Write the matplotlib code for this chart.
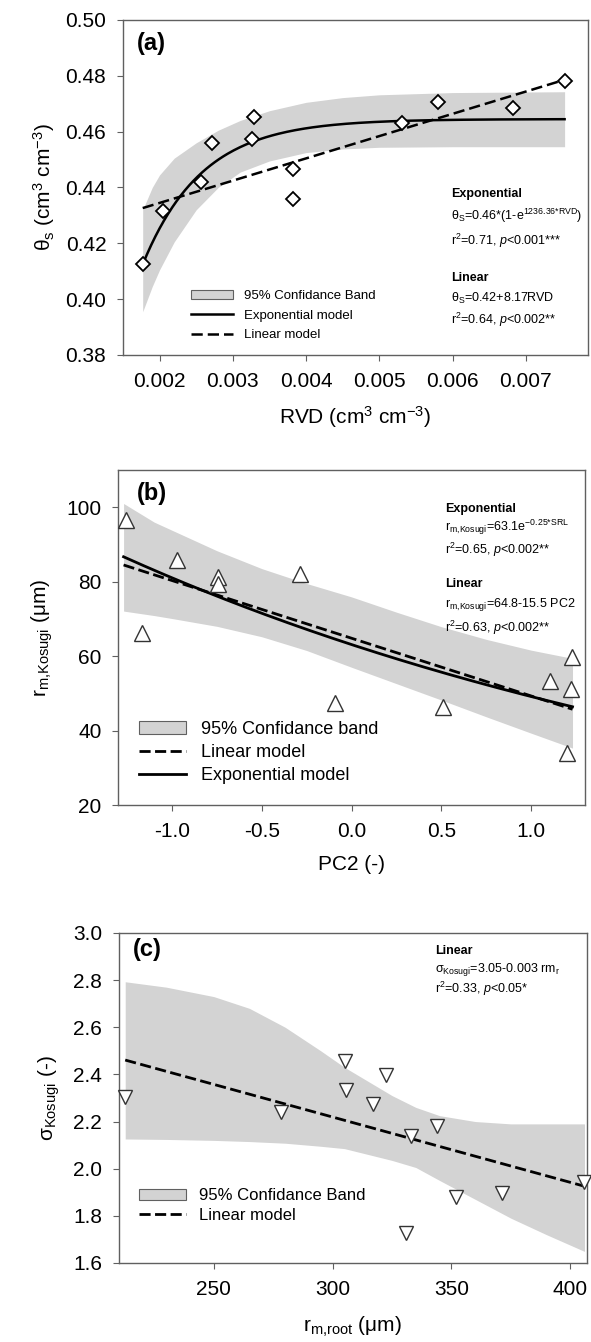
# pylint: disable=missing-docstring,invalid-name

import matplotlib
matplotlib.use('Agg')
import matplotlib.pyplot as plt
import numpy as np
from matplotlib import font_manager
from matplotlib.lines import Line2D
from matplotlib.patches import Patch

# ---- panel (a): theta_s vs RVD
rvd = [0.00177, 0.00205, 0.00257, 0.00272, 0.00326, 0.00329,
       0.00382, 0.00382, 0.00531, 0.00580, 0.00683, 0.00753]
theta_s = [0.4125, 0.4316, 0.4421, 0.4558, 0.4573, 0.4651,
           0.4465, 0.4359, 0.4632, 0.4707, 0.4686, 0.4781]
band_a_x = [0.00177, 0.0019, 0.0020, 0.0022, 0.0025, 0.0028, 0.0031,
            0.0035, 0.0040, 0.0045, 0.0050, 0.0060, 0.00753]
band_a_hi = [0.4320, 0.4400, 0.4445, 0.4505, 0.4560, 0.4605, 0.4640,
             0.4675, 0.4705, 0.4722, 0.4732, 0.4740, 0.4743]
band_a_lo = [0.3955, 0.4045, 0.4105, 0.4205, 0.4320, 0.4400, 0.4455,
             0.4495, 0.4525, 0.4538, 0.4544, 0.4546, 0.4546]
exp_a = (0.4645, 1236.36)
lin_a = (0.4185, 7.98)

# ---- panel (b): r_m,Kosugi vs PC2
pc2 = [-1.258, -1.166, -0.973, -0.746, -0.746, -0.29,
       -0.095, 0.508, 1.103, 1.229, 1.223, 1.202]
rm_kosugi = [96.6, 66.1, 85.9, 81.3, 79.3, 82.1,
             47.3, 46.4, 53.4, 59.8, 51.1, 34.1]
band_b_x = [-1.27, -1.1, -1.0, -0.75, -0.5, -0.25, 0.0, 0.25, 0.5, 0.75,
            1.0, 1.23]
band_b_hi = [101.0, 96.0, 93.8, 88.3, 83.5, 79.5, 75.9, 71.8, 67.9, 64.5,
             61.6, 59.4]
band_b_lo = [72.1, 70.9, 70.1, 68.0, 65.2, 61.5, 57.0, 52.6, 48.2, 43.7,
             39.3, 35.3]
exp_b = (63.1, 0.25)
lin_b = (64.8, 15.5)

# ---- panel (c): sigma_Kosugi vs r_m,root
rm_root = [212.7, 278.1, 305.0, 305.6, 316.9, 322.3,
           332.9, 331.0, 344.1, 351.8, 371.4, 406.0]
sigma_kosugi = [2.305, 2.239, 2.458, 2.333, 2.273, 2.398,
                2.140, 1.728, 2.182, 1.879, 1.897, 1.945]
band_c_x = [212.7, 230, 250, 265, 280, 295, 305, 315, 325, 335, 345, 360,
            375, 390, 406]
band_c_hi = [2.793, 2.77, 2.73, 2.68, 2.60, 2.50, 2.43, 2.37, 2.31, 2.26,
             2.225, 2.20, 2.19, 2.19, 2.19]
band_c_lo = [2.126, 2.124, 2.12, 2.115, 2.108, 2.095, 2.085, 2.06, 2.035,
             2.005, 1.95, 1.87, 1.79, 1.72, 1.649]
lin_c = (3.05, 0.00277)

names = {f.name for f in font_manager.fontManager.ttflist}
main_font = 'Liberation Sans' if 'Liberation Sans' in names else 'DejaVu Sans'
narrow_font = 'Liberation Sans Narrow' if 'Liberation Sans Narrow' in names else main_font

plt.rcParams['font.family'] = [main_font, 'DejaVu Sans']
plt.rcParams['axes.unicode_minus'] = False
plt.rcParams['mathtext.fontset'] = 'custom'
plt.rcParams['mathtext.rm'] = main_font
plt.rcParams['mathtext.it'] = main_font + ':italic'
plt.rcParams['mathtext.bf'] = main_font + ':bold'

BAND = '#d3d3d3'
SPINE = '#606060'
DASH = (0, (4, 1.6))

fig = plt.figure(figsize=(5.91, 13.42), dpi=100)
ax_a = fig.add_axes([0.208, 0.7355, 0.787, 0.2496])
ax_b = fig.add_axes([0.200, 0.4001, 0.790, 0.2497])
ax_c = fig.add_axes([0.201, 0.0589, 0.792, 0.2459])


def style_axes(ax):
    for s in ax.spines.values():
        s.set_color(SPINE)
        s.set_linewidth(1.0)
    ax.tick_params(direction='out', length=4, width=0.8, color=SPINE,
                   labelsize=15, pad=8)


def small_text(ax, x, y, s, bold=False, size=9):
    ax.text(x, y, s, transform=ax.transAxes, fontsize=size,
            family=[narrow_font, 'DejaVu Sans'],
            fontweight='bold' if bold else 'normal', va='center', ha='left')


# ---------------- (a)
xs = np.linspace(min(rvd), max(rvd), 200)
ax_a.fill_between(band_a_x, band_a_lo, band_a_hi, color=BAND, lw=0)
ax_a.plot(xs, exp_a[0] * (1 - np.exp(-exp_a[1] * xs)), color='black', lw=1.8)
ax_a.plot(xs, lin_a[0] + lin_a[1] * xs, color='black', lw=1.8, ls=(0, (4.5, 2)))
ax_a.plot(rvd, theta_s, 'D', ms=7.5, mfc='white', mec='black', mew=1.3,
          clip_on=False, zorder=5)
ax_a.set_xlim(0.0015, 0.00785)
ax_a.set_ylim(0.38, 0.50)
ax_a.set_xticks(np.arange(0.002, 0.0071, 0.001))
ax_a.set_yticks(np.arange(0.38, 0.501, 0.02))
ax_a.xaxis.set_major_formatter(matplotlib.ticker.FormatStrFormatter('%.3f'))
ax_a.yaxis.set_major_formatter(matplotlib.ticker.FormatStrFormatter('%.2f'))
style_axes(ax_a)
ax_a.set_xlabel('RVD (cm$^\\mathregular{3}$ cm$^\\mathregular{-3}$)', fontsize=15,
                labelpad=10)
ax_a.set_ylabel('θ$_\\mathregular{s}$ (cm$^\\mathregular{3}$ cm$^\\mathregular{-3}$)',
                fontsize=15, labelpad=6)
ax_a.text(0.03, 0.93, '(a)', transform=ax_a.transAxes, fontsize=17,
          fontweight='bold', va='center')
small_text(ax_a, 0.705, 0.48, 'Exponential', bold=True)
small_text(ax_a, 0.705, 0.415,
           'θ$_\\mathregular{S}$=0.46*(1-e$^\\mathregular{1236.36{*}RVD}$)')
small_text(ax_a, 0.705, 0.34, 'r$^\\mathregular{2}$=0.71, $\\it{p}$<0.001***')
small_text(ax_a, 0.705, 0.23, 'Linear', bold=True)
small_text(ax_a, 0.705, 0.17, 'θ$_\\mathregular{S}$=0.42+8.17RVD')
small_text(ax_a, 0.705, 0.105, 'r$^\\mathregular{2}$=0.64, $\\it{p}$<0.002**')
h_a = [Patch(facecolor=BAND, edgecolor=SPINE, lw=0.8),
       Line2D([], [], color='black', lw=1.8),
       Line2D([], [], color='black', lw=1.8, ls=(0, (4.5, 2)))]
ax_a.legend(h_a, ['95% Confidance Band', 'Exponential model', 'Linear model'],
            loc='lower left', bbox_to_anchor=(0.135, 0.025), frameon=False,
            prop={'family': narrow_font, 'size': 9.5}, handlelength=3.2,
            labelspacing=0.55, borderaxespad=0)

# ---------------- (b)
xs = np.linspace(-1.27, 1.23, 200)
ax_b.fill_between(band_b_x, band_b_lo, band_b_hi, color=BAND, lw=0)
ax_b.plot(xs, lin_b[0] - lin_b[1] * xs, color='black', lw=2.0, ls=DASH)
ax_b.plot(xs, exp_b[0] * np.exp(-exp_b[1] * xs), color='black', lw=2.0)
ax_b.plot(pc2, rm_kosugi, '^', ms=11, mfc='white', mec='#333333', mew=1.0,
          clip_on=False, zorder=5)
ax_b.set_xlim(-1.3, 1.3)
ax_b.set_ylim(20, 110)
ax_b.set_xticks([-1.0, -0.5, 0.0, 0.5, 1.0])
ax_b.set_yticks([20, 40, 60, 80, 100])
ax_b.xaxis.set_major_formatter(matplotlib.ticker.FormatStrFormatter('%.1f'))
style_axes(ax_b)
ax_b.set_xlabel('PC2 (-)', fontsize=15, labelpad=10)
ax_b.set_ylabel('r$_\\mathregular{m{,}Kosugi}$ (μm)', fontsize=15, labelpad=8)
ax_b.text(0.04, 0.93, '(b)', transform=ax_b.transAxes, fontsize=17,
          fontweight='bold', va='center')
small_text(ax_b, 0.7, 0.885, 'Exponential', bold=True)
small_text(ax_b, 0.7, 0.83,
           'r$_\\mathregular{m{,}Kosugi}$=63.1e$^\\mathregular{-0.25{*}SRL}$')
small_text(ax_b, 0.7, 0.76, 'r$^\\mathregular{2}$=0.65, $\\it{p}$<0.002**')
small_text(ax_b, 0.7, 0.66, 'Linear', bold=True)
small_text(ax_b, 0.7, 0.60,
           'r$_\\mathregular{m{,}Kosugi}$=64.8-15.5 PC2')
small_text(ax_b, 0.7, 0.53, 'r$^\\mathregular{2}$=0.63, $\\it{p}$<0.002**')
h_b = [Patch(facecolor=BAND, edgecolor=SPINE, lw=0.8),
       Line2D([], [], color='black', lw=2.0, ls=DASH),
       Line2D([], [], color='black', lw=2.0)]
ax_b.legend(h_b, ['95% Confidance band', 'Linear model', 'Exponential model'],
            loc='lower left', bbox_to_anchor=(0.03, 0.04), frameon=False,
            prop={'size': 13}, handlelength=2.6, labelspacing=0.35,
            borderaxespad=0)

# ---------------- (c)
xs = np.linspace(min(rm_root), max(rm_root), 100)
ax_c.fill_between(band_c_x, band_c_lo, band_c_hi, color=BAND, lw=0)
ax_c.plot(xs, lin_c[0] - lin_c[1] * xs, color='black', lw=2.0, ls=DASH)
ax_c.plot(rm_root, sigma_kosugi, 'v', ms=10, mfc='white', mec='#333333',
          mew=1.0, clip_on=False, zorder=5)
ax_c.set_xlim(210, 407)
ax_c.set_ylim(1.6, 3.0)
ax_c.set_xticks([250, 300, 350, 400])
ax_c.set_yticks(np.arange(1.6, 3.01, 0.2))
ax_c.yaxis.set_major_formatter(matplotlib.ticker.FormatStrFormatter('%.1f'))
style_axes(ax_c)
ax_c.set_xlabel('r$_\\mathregular{m{,}root}$ (μm)', fontsize=15, labelpad=12)
ax_c.set_ylabel('σ$_\\mathregular{Kosugi}$ (-)', fontsize=15, labelpad=8)
ax_c.text(0.03, 0.95, '(c)', transform=ax_c.transAxes, fontsize=17,
          fontweight='bold', va='center')
small_text(ax_c, 0.675, 0.945, 'Linear', bold=True)
small_text(ax_c, 0.675, 0.89,
           'σ$_\\mathregular{Kosugi}$=3.05-0.003 rm$_\\mathregular{r}$')
small_text(ax_c, 0.675, 0.83, 'r$^\\mathregular{2}$=0.33, $\\it{p}$<0.05*')
h_c = [Patch(facecolor=BAND, edgecolor=SPINE, lw=0.8),
       Line2D([], [], color='black', lw=2.0, ls=DASH)]
ax_c.legend(h_c, ['95% Confidance Band', 'Linear model'],
            loc='lower left', bbox_to_anchor=(0.03, 0.1), frameon=False,
            prop={'family': narrow_font, 'size': 12}, handlelength=2.8,
            labelspacing=0.3, borderaxespad=0)

fig.savefig('out.png', dpi=100)
